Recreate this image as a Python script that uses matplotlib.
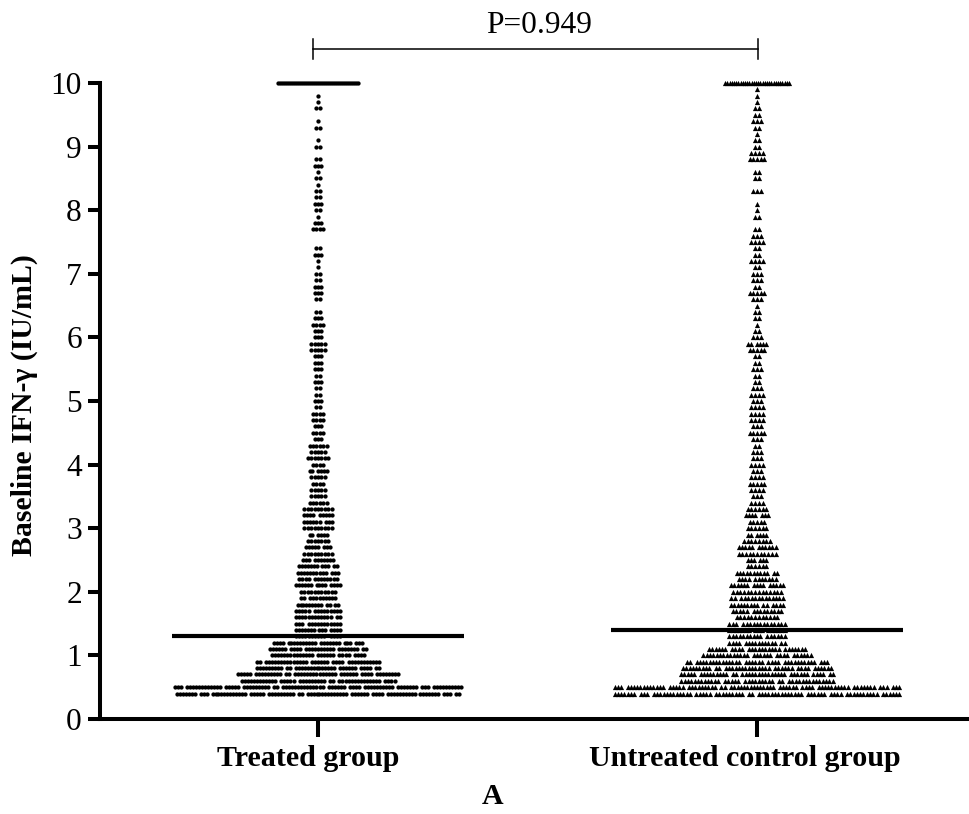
import numpy as np
import matplotlib
matplotlib.use('Agg')
import matplotlib.pyplot as plt

plt.rcParams['font.family'] = ['Liberation Serif', 'DejaVu Serif']

W, H = 969, 814
groups = ['Treated group', 'Untreated control group']
y_ticks = [0, 1, 2, 3, 4, 5, 6, 7, 8, 9, 10]
levels = [0.4, 0.5, 0.6, 0.7, 0.8, 0.9,
          1.0, 1.1, 1.2, 1.3, 1.4, 1.5, 1.6, 1.7, 1.8, 1.9,
          2.0, 2.1, 2.2, 2.3, 2.4, 2.5, 2.6, 2.7, 2.8, 2.9,
          3.0, 3.1, 3.2, 3.3, 3.4, 3.5, 3.6, 3.7, 3.8, 3.9,
          4.0, 4.1, 4.2, 4.3, 4.4, 4.5, 4.6, 4.7, 4.8, 4.9,
          5.0, 5.1, 5.2, 5.3, 5.4, 5.5, 5.6, 5.7, 5.8, 5.9,
          6.0, 6.1, 6.2, 6.3, 6.4, 6.5, 6.6, 6.7, 6.8, 6.9,
          7.0, 7.1, 7.2, 7.3, 7.4, 7.5, 7.6, 7.7, 7.8, 7.9,
          8.0, 8.1, 8.2, 8.3, 8.4, 8.5, 8.6, 8.7, 8.8, 8.9,
          9.0, 9.1, 9.2, 9.3, 9.4, 9.5, 9.6, 9.7, 9.8, 9.9,
          10.0]
treated_counts = [84, 85, 46, 48, 37, 37,
                  28, 29, 27, 14, 14, 14, 14, 14, 13, 11,
                  11, 14, 12, 13, 12, 10, 9, 8, 7, 6,
                  9, 9, 9, 9, 6, 5, 5, 4, 5, 6,
                  4, 7, 5, 6, 3, 4, 3, 4, 4, 2,
                  3, 2, 2, 3, 2, 3, 3, 3, 5, 5,
                  3, 3, 4, 3, 2, 0, 2, 3, 3, 2,
                  2, 1, 1, 3, 2, 0, 0, 4, 3, 1,
                  2, 3, 2, 2, 1, 2, 1, 3, 2, 0,
                  2, 1, 0, 2, 1, 0, 2, 1, 1, 0,
                  41]
untreated_counts = [78, 78, 42, 42, 41, 39,
                    30, 27, 16, 16, 16, 16, 12, 14, 15, 15,
                    14, 15, 11, 12, 6, 6, 11, 11, 8, 6,
                    6, 5, 7, 6, 4, 3, 4, 5, 4, 3,
                    4, 3, 3, 2, 3, 5, 3, 4, 4, 4,
                    3, 4, 3, 2, 2, 3, 2, 2, 5, 6,
                    3, 2, 1, 2, 2, 1, 3, 5, 2, 3,
                    3, 2, 4, 2, 2, 4, 3, 2, 0, 2,
                    1, 1, 0, 3, 0, 2, 2, 0, 5, 4,
                    2, 2, 1, 2, 3, 2, 2, 1, 1, 1,
                    30]
medians = [1.3, 1.4]
p_label = 'P=0.949'

# axes frame in pixels
left, right, bottom, top = 100, 969, 719, 83
px_per_x = 439.0            # distance between the two categories
x0_px = 318.0               # pixel position of the first category
xlim = ((left - x0_px) / px_per_x, (right - x0_px) / px_per_x)

fig = plt.figure(figsize=(W / 100, H / 100), dpi=100, facecolor='white')
ax = fig.add_axes([left / W, 1 - bottom / H, (right - left) / W, (bottom - top) / H])
ax.set_xlim(*xlim)
ax.set_ylim(0, 10)

RUNS = [7, 3, 12, 5, 9, 2, 14, 6, 4, 10]   # swarm layout: lengths of the solid runs in a row


def swarm(center, counts, pitch_px, cap_pitch_px):
    xs, ys = [], []
    for r, (lev, n) in enumerate(zip(levels, counts)):
        if not n:
            continue
        if lev >= 10:
            off = (np.arange(n) - (n - 1) / 2) * cap_pitch_px
        else:
            steps = np.ones(n - 1) if n > 1 else np.zeros(0)
            if n >= 6:
                k, i = r % len(RUNS), 0
                while True:
                    i += RUNS[k % len(RUNS)]
                    k += 1
                    if i >= n - 1:
                        break
                    steps[i - 1] += 1.0
            pos = np.concatenate([[0.0], np.cumsum(steps)])
            if n > 1:
                pos *= (n - 1) / pos[-1]
            off = (pos - (n - 1) / 2) * pitch_px
        xs.extend(center + off / px_per_x)
        ys.extend([lev] * n)
    return xs, ys


xs, ys = swarm(0, treated_counts, 3.4, 2.0)
ax.scatter(xs, ys, s=9.5, marker='o', color='black', linewidths=0, clip_on=False, zorder=3)
xs, ys = swarm(1, untreated_counts, 3.7, 2.2)
ax.scatter(xs, ys, s=14, marker='^', color='black', linewidths=0, clip_on=False, zorder=3)

half_px = 146
for i, m in enumerate(medians):
    ax.plot([i - half_px / px_per_x, i + half_px / px_per_x], [m, m], color='black',
            lw=3.0, solid_capstyle='butt', zorder=4)

for s in ['top', 'right']:
    ax.spines[s].set_visible(False)
for s in ['left', 'bottom']:
    ax.spines[s].set_linewidth(2.9)
    ax.spines[s].set_color('black')
    ax.spines[s].set_capstyle('projecting')

ax.set_yticks(y_ticks)
ax.set_xticks([0, 1])
ax.set_xticklabels([])
ax.tick_params(axis='y', length=9, width=2.9, labelsize=22.6, pad=4)
ax.tick_params(axis='x', length=13, width=2.9)

label_centres_px = [308, 745]
for name, cx in zip(groups, label_centres_px):
    ax.text((cx - x0_px) / px_per_x, (719 - 758) / 63.6, name, fontsize=21.6, fontweight='bold',
            ha='center', va='center', clip_on=False)

ax.text((24 - x0_px) / px_per_x, (719 - 405) / 63.6, 'Baseline IFN-γ (IU/mL)', rotation=90,
        fontsize=21.4, fontweight='bold', ha='center', va='center', clip_on=False)
ax.text((493 - x0_px) / px_per_x, (719 - 797) / 63.6, 'A', fontsize=21.6, fontweight='bold',
        ha='center', va='center', clip_on=False)

# significance bracket
br_y = (719 - 49) / 63.6
cap = 10 / 63.6
bx0, bx1 = (313 - x0_px) / px_per_x, (758 - x0_px) / px_per_x
ax.plot([bx0, bx1], [br_y, br_y], color='black', lw=1.1, clip_on=False)
for b in (bx0, bx1):
    ax.plot([b, b], [br_y - cap, br_y + cap], color='black', lw=1.1, clip_on=False)
ax.text((539 - x0_px) / px_per_x, (719 - 26) / 63.6, p_label, fontsize=22.6, ha='center', va='center',
        clip_on=False)

fig.savefig('out.png', dpi=100, facecolor='white')
